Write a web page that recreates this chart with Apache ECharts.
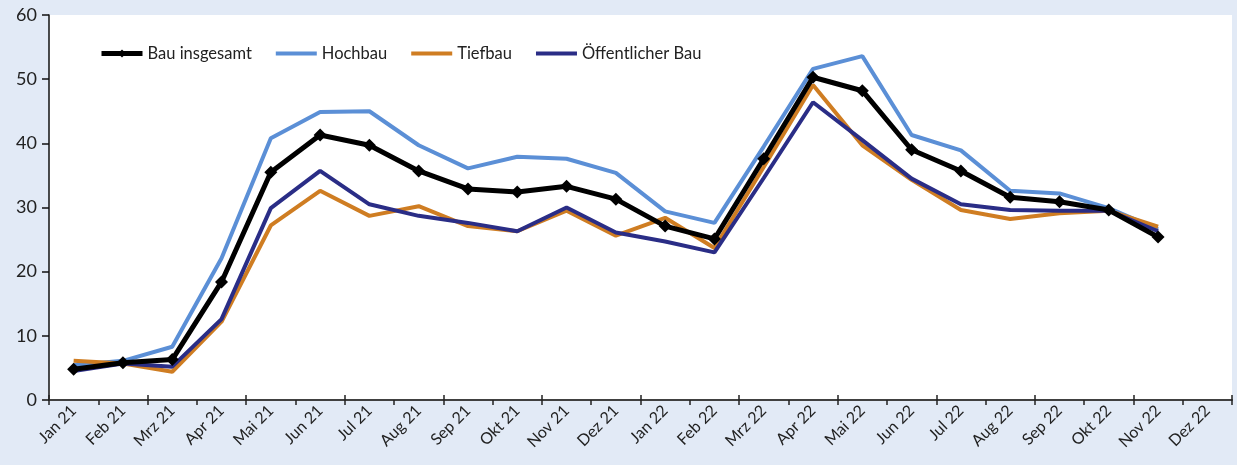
<!DOCTYPE html>
<html>
<head>
<meta charset="utf-8">
<script src="https://cdn.jsdelivr.net/npm/echarts@6/dist/echarts.min.js"></script>
<style>
  html, body { margin: 0; padding: 0; background: #e2eaf6; }
  #chart { width: 1237px; height: 465px; }
</style>
</head>
<body>
<div id="chart"></div>
<script>
const months = ['Jan 21', 'Feb 21', 'Mrz 21', 'Apr 21', 'Mai 21', 'Jun 21', 'Jul 21', 'Aug 21',
  'Sep 21', 'Okt 21', 'Nov 21', 'Dez 21', 'Jan 22', 'Feb 22', 'Mrz 22', 'Apr 22', 'Mai 22',
  'Jun 22', 'Jul 22', 'Aug 22', 'Sep 22', 'Okt 22', 'Nov 22', 'Dez 22'];

const bauInsgesamt = [4.8, 5.8, 6.3, 18.4, 35.5, 41.3, 39.7, 35.7, 32.9, 32.4, 33.3, 31.3,
  27.1, 25.1, 37.6, 50.3, 48.2, 39.0, 35.7, 31.6, 30.9, 29.6, 25.4, null];
const hochbau = [5.4, 6.1, 8.3, 22.1, 40.8, 44.9, 45.0, 39.7, 36.1, 37.9, 37.6, 35.4,
  29.4, 27.6, 39.5, 51.6, 53.6, 41.3, 38.9, 32.6, 32.2, 29.9, 26.6, null];
const tiefbau = [6.1, 5.7, 4.4, 12.2, 27.2, 32.6, 28.7, 30.2, 27.1, 26.3, 29.5, 25.6,
  28.4, 23.7, 36.3, 49.1, 39.7, 34.3, 29.6, 28.2, 29.1, 29.5, 27.0, null];
const oeffentlicherBau = [4.5, 5.7, 5.2, 12.6, 29.9, 35.7, 30.5, 28.7, 27.6, 26.3, 30.0, 26.1,
  24.7, 23.0, 34.6, 46.4, 40.5, 34.5, 30.5, 29.6, 29.5, 29.5, 26.3, null];

const FONT = 'Lato, "Open Sans", sans-serif';

const chart = echarts.init(document.getElementById('chart'));

chart.setOption({
  animation: false,
  backgroundColor: '#e2eaf6',
  textStyle: { fontFamily: FONT },
  grid: {
    left: 49, right: 5, top: 15, bottom: 65,
    show: true, backgroundColor: '#ffffff', borderWidth: 0
  },
  legend: {
    left: 94, top: 40,
    itemWidth: 41, itemHeight: 10, itemGap: 22,
    textStyle: { fontFamily: FONT, fontSize: 16.5, color: '#222' },
    data: [
      { name: 'Bau insgesamt', lineStyle: { width: 5 } },
      // Linien ohne Symbol in der Legende
      { name: 'Hochbau', itemStyle: { opacity: 0 }, lineStyle: { width: 4 } },
      { name: 'Tiefbau', itemStyle: { opacity: 0 }, lineStyle: { width: 4 } },
      { name: 'Öffentlicher Bau', itemStyle: { opacity: 0 }, lineStyle: { width: 4 } }
    ]
  },
  xAxis: [
    {
      type: 'category',
      data: months,
      boundaryGap: true,
      axisLine: { lineStyle: { color: '#404040', width: 2 } },
      axisTick: { show: true, length: 5, lineStyle: { color: '#222', width: 1.5 } },
      axisLabel: { rotate: 45, fontSize: 16, color: '#222', margin: 8, interval: 0 },
      splitLine: { show: false }
    },
    {
      // zweite Achse nur für die nach innen zeigenden Teilstriche
      type: 'category',
      data: months,
      position: 'bottom',
      boundaryGap: true,
      axisLine: { show: false },
      axisTick: { show: true, inside: true, length: 5, lineStyle: { color: '#222', width: 1.5 } },
      axisLabel: { show: false },
      splitLine: { show: false }
    }
  ],
  yAxis: {
    type: 'value',
    min: 0, max: 60, interval: 10,
    axisLine: { show: true, lineStyle: { color: '#111', width: 1.5 } },
    axisTick: { show: true, length: 7, lineStyle: { color: '#111', width: 1.5 } },
    axisLabel: { fontSize: 18, color: '#222', margin: 12 },
    splitLine: { show: false }
  },
  series: [
    {
      name: 'Hochbau', type: 'line', data: hochbau, z: 2,
      symbol: 'none', color: '#5b8fd6',
      lineStyle: { width: 4, color: '#5b8fd6' }
    },
    {
      name: 'Tiefbau', type: 'line', data: tiefbau, z: 3,
      symbol: 'none', color: '#cf7d22',
      lineStyle: { width: 4, color: '#cf7d22' }
    },
    {
      name: 'Öffentlicher Bau', type: 'line', data: oeffentlicherBau, z: 4,
      symbol: 'none', color: '#2a2d86',
      lineStyle: { width: 4, color: '#2a2d86' }
    },
    {
      name: 'Bau insgesamt', type: 'line', data: bauInsgesamt, z: 5,
      symbol: 'diamond', symbolSize: 13, showAllSymbol: true, color: '#000',
      itemStyle: { color: '#000' },
      lineStyle: { width: 5, color: '#000' }
    }
  ]
});
</script>
</body>
</html>
